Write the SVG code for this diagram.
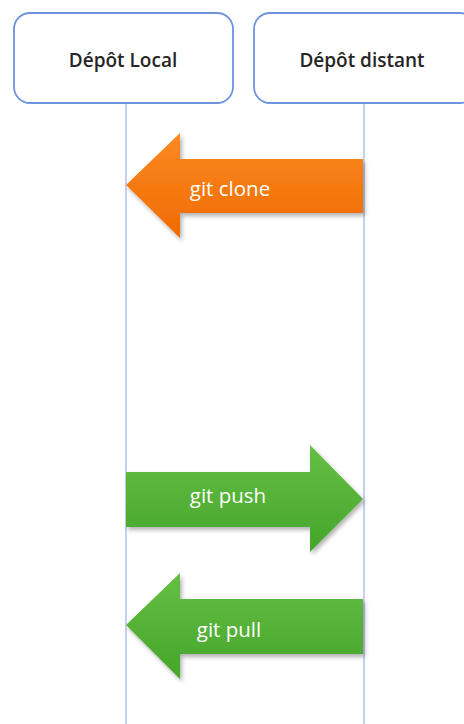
<svg xmlns="http://www.w3.org/2000/svg" width="464" height="724" viewBox="0 0 464 724">
  <style>
    .box { fill: #ffffff; stroke: #6d93dc; stroke-width: 1.8; }
    .life { stroke: #9fb3e6; stroke-width: 1.2; fill: none; }
    .title { font-family: "Open Sans", "Liberation Sans", sans-serif; font-weight: 600; font-size: 19px; fill: #262626; text-anchor: middle; }
    .lbl { font-family: "Open Sans", "Liberation Sans", sans-serif; font-size: 20.5px; fill: #ffffff; text-anchor: middle; }
  </style>
  <defs>
    <linearGradient id="gOrange" x1="0" y1="0" x2="0" y2="1">
      <stop offset="0" stop-color="#fc8a22"/>
      <stop offset="1" stop-color="#ef6a00"/>
    </linearGradient>
    <linearGradient id="gGreen" x1="0" y1="0" x2="0" y2="1">
      <stop offset="0" stop-color="#66bf46"/>
      <stop offset="1" stop-color="#44a529"/>
    </linearGradient>
    <filter id="shadow" x="-10%" y="-10%" width="125%" height="130%">
      <feDropShadow dx="2" dy="3" stdDeviation="2" flood-color="#000000" flood-opacity="0.3"/>
    </filter>
  </defs>
  <rect x="0" y="0" width="464" height="724" fill="#ffffff"/>
  <g id="connectors">
    <line class="life" x1="126" y1="104" x2="126" y2="724"/>
    <line class="life" x1="364" y1="104" x2="364" y2="724"/>
  </g>
  <g id="depot-local">
    <rect class="box" x="14" y="13" width="219" height="90" rx="16" ry="16"/>
    <text class="title" x="123" y="67">Dépôt Local</text>
  </g>
  <g id="depot-distant">
    <rect class="box" x="254" y="13" width="222" height="90" rx="16" ry="16"/>
    <text class="title" x="362" y="67">Dépôt distant</text>
  </g>
  <g id="git-clone">
    <polygon points="126,185 180,133 180,159 363,159 363,213 180,213 180,238" fill="url(#gOrange)" filter="url(#shadow)"/>
    <text class="lbl" x="230" y="196">git clone</text>
  </g>
  <g id="git-push">
    <polygon points="126,472 310,472 310,445 363,499 310,552 310,527 126,527" fill="url(#gGreen)" filter="url(#shadow)"/>
    <text class="lbl" x="228" y="503">git push</text>
  </g>
  <g id="git-pull">
    <polygon points="126,625 180,573 180,599 363,599 363,654 180,654 180,679" fill="url(#gGreen)" filter="url(#shadow)"/>
    <text class="lbl" x="229" y="637">git pull</text>
  </g>
</svg>
